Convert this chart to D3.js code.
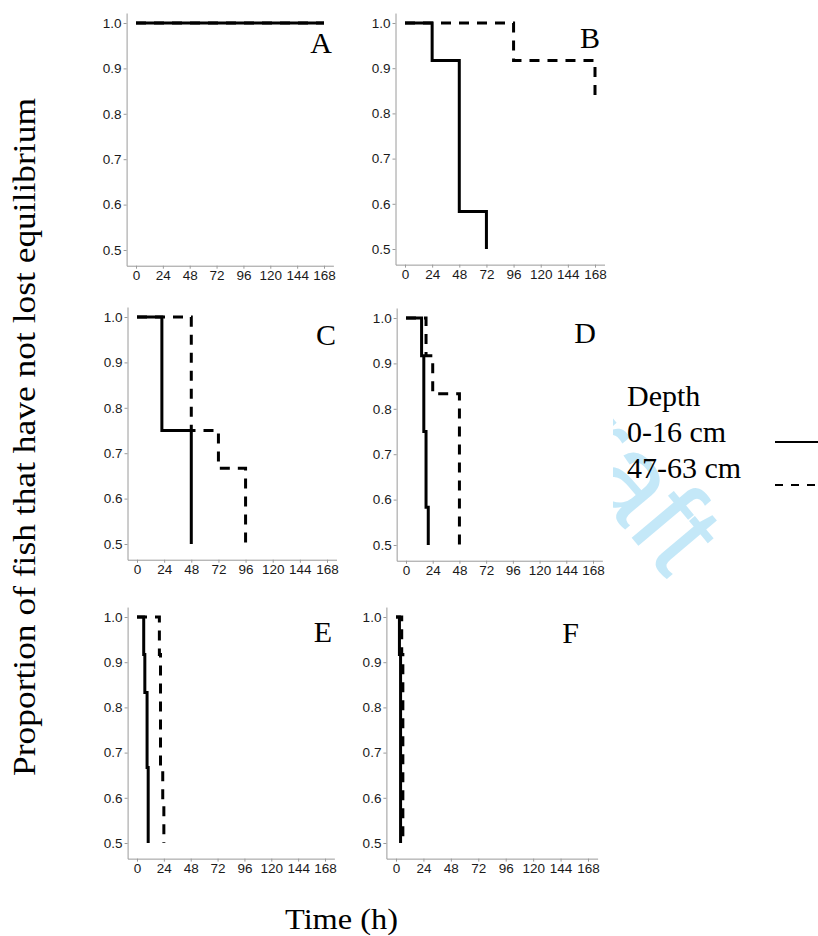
<!DOCTYPE html>
<html>
<head>
<meta charset="utf-8">
<script src="https://cdn.jsdelivr.net/npm/d3@7"></script>
<style>
  body { margin: 0; background: #fff; }
  svg { display: block; }
</style>
</head>
<body>
<svg width="818" height="936"></svg>
<script>
// values
const panelLabels = ["A", "B", "C", "D", "E", "F"];
const shallowTimes = [[0, 168], [0, 24, 48, 72], [0, 22, 48], [0, 14, 16, 18, 20], [0, 6, 7, 9, 10], [0, 3, 4]];
const shallowProps = [[1, 1], [1, 0.917, 0.583, 0.5], [1, 0.75, 0.5], [1, 0.917, 0.75, 0.583, 0.5], [1, 0.917, 0.833, 0.667, 0.5], [1, 0.917, 0.5]];
const deepTimes = [[0, 168], [0, 96, 168], [0, 48, 72, 96], [0, 18, 24, 48], [0, 20, 21, 23, 24], [0, 5, 6]];
const deepProps = [[1, 1], [1, 0.917, 0.833], [1, 0.75, 0.667, 0.5], [1, 0.917, 0.833, 0.5], [1, 0.917, 0.667, 0.583, 0.5], [1, 0.917, 0.5]];
const xTicks = [0, 24, 48, 72, 96, 120, 144, 168];
const yTicks = [0.5, 0.6, 0.7, 0.8, 0.9, 1.0];
const legendTitle = "Depth";
const depthLabels = ["0-16 cm", "47-63 cm"];
const yTitle = "Proportion of fish that have not lost equilibrium";
const xTitle = "Time (h)";

// where each panel sits (pixel x of t=0 / t=168, pixel y of 1.0 / 0.5, letter position)
const panelLayout = [
    { x0: 136, x1: 324, yTop: 23, yBot: 250, lx: 332, ly: 53 },
    { x0: 405, x1: 595, yTop: 23, yBot: 249, lx: 600, ly: 48 },
    { x0: 137, x1: 327, yTop: 317, yBot: 544, lx: 336, ly: 345 },
    { x0: 406, x1: 593, yTop: 318, yBot: 545, lx: 596, ly: 343 },
    { x0: 137, x1: 325, yTop: 617, yBot: 843, lx: 332, ly: 642 },
    { x0: 396, x1: 588, yTop: 617, yBot: 843, lx: 579, ly: 643 }
];

const serif = "'Liberation Serif', 'Times New Roman', serif";
const sans = "'Liberation Sans', Arial, sans-serif";
const axisGrey = "#9a9a9a";

const svg = d3.select("svg");

// watermark, only the part right of the figure shows
svg.append("clipPath").attr("id", "wmClip")
    .append("rect").attr("x", 613).attr("y", 0).attr("width", 300).attr("height", 936);
svg.append("g").attr("clip-path", "url(#wmClip)")
    .append("text")
    .attr("transform", "translate(585,482) rotate(50)")
    .attr("text-anchor", "middle")
    .attr("font-family", sans)
    .attr("font-size", 118)
    .attr("fill", "#c4e8f8")
    .text("Draft");

const line = d3.line().curve(d3.curveStepAfter);

panelLabels.forEach((label, i) => {
    const p = panelLayout[i];
    const k = (p.x1 - p.x0) / 168;
    const x = d3.scaleLinear()
        .domain([-8.4, 176.4])
        .range([p.x0 - 8.4 * k, p.x1 + 8.4 * k]);
    const ky = (p.yBot - p.yTop) / 0.5;
    const y = d3.scaleLinear()
        .domain([0.4654, 1.022])
        .range([p.yBot + 0.0346 * ky, p.yTop - 0.022 * ky]);

    const g = svg.append("g");

    // X axis
    const xa = g.append("g")
        .attr("transform", `translate(0, ${y(0.4654)})`)
        .call(d3.axisBottom(x).tickValues(xTicks).tickSize(3).tickSizeOuter(0).tickPadding(2));
    // Y axis
    const ya = g.append("g")
        .attr("transform", `translate(${x(-8.4)}, 0)`)
        .call(d3.axisLeft(y).tickValues(yTicks).tickFormat(d3.format(".1f")).tickSize(3).tickSizeOuter(0).tickPadding(2));

    [xa, ya].forEach(a => {
        a.select(".domain").attr("stroke", axisGrey);
        a.selectAll(".tick line").attr("stroke", axisGrey);
        a.selectAll("text")
            .attr("font-family", sans)
            .attr("font-size", 13.5)
            .attr("fill", "#1a1a1a");
    });

    // deep series (dashed) then shallow (solid)
    g.append("path")
        .attr("d", line(deepTimes[i].map((t, j) => [x(t), y(deepProps[i][j])])))
        .attr("fill", "none")
        .attr("stroke", "#000")
        .attr("stroke-width", 3)
        .attr("stroke-dasharray", "10,8");
    g.append("path")
        .attr("d", line(shallowTimes[i].map((t, j) => [x(t), y(shallowProps[i][j])])))
        .attr("fill", "none")
        .attr("stroke", "#000")
        .attr("stroke-width", 3);

    g.append("text")
        .attr("x", p.lx)
        .attr("y", p.ly)
        .attr("text-anchor", "end")
        .attr("font-family", serif)
        .attr("font-size", 30)
        .text(label);
});

// Y label
svg.append("text")
    .attr("transform", "translate(35, 437) rotate(-90)")
    .attr("text-anchor", "middle")
    .attr("font-family", serif)
    .attr("font-size", 31)
    .attr("textLength", 678)
    .attr("lengthAdjust", "spacingAndGlyphs")
    .text(yTitle);

// X label
svg.append("text")
    .attr("x", 285)
    .attr("y", 929)
    .attr("font-family", serif)
    .attr("font-size", 30)
    .attr("textLength", 113)
    .attr("lengthAdjust", "spacingAndGlyphs")
    .text(xTitle);

// legend
const legend = svg.append("g");
legend.append("text")
    .attr("x", 627).attr("y", 406)
    .attr("font-family", serif).attr("font-size", 30)
    .text(legendTitle);
depthLabels.forEach((d, i) => {
    legend.append("text")
        .attr("x", 627).attr("y", 442 + i * 36)
        .attr("font-family", serif).attr("font-size", 30)
        .text(d);
    legend.append("line")
        .attr("x1", 775).attr("x2", 818)
        .attr("y1", 442 + i * 43).attr("y2", 442 + i * 43)
        .attr("stroke", "#000")
        .attr("stroke-width", 2)
        .attr("stroke-dasharray", i === 0 ? null : "8,8");
});
</script>
</body>
</html>
